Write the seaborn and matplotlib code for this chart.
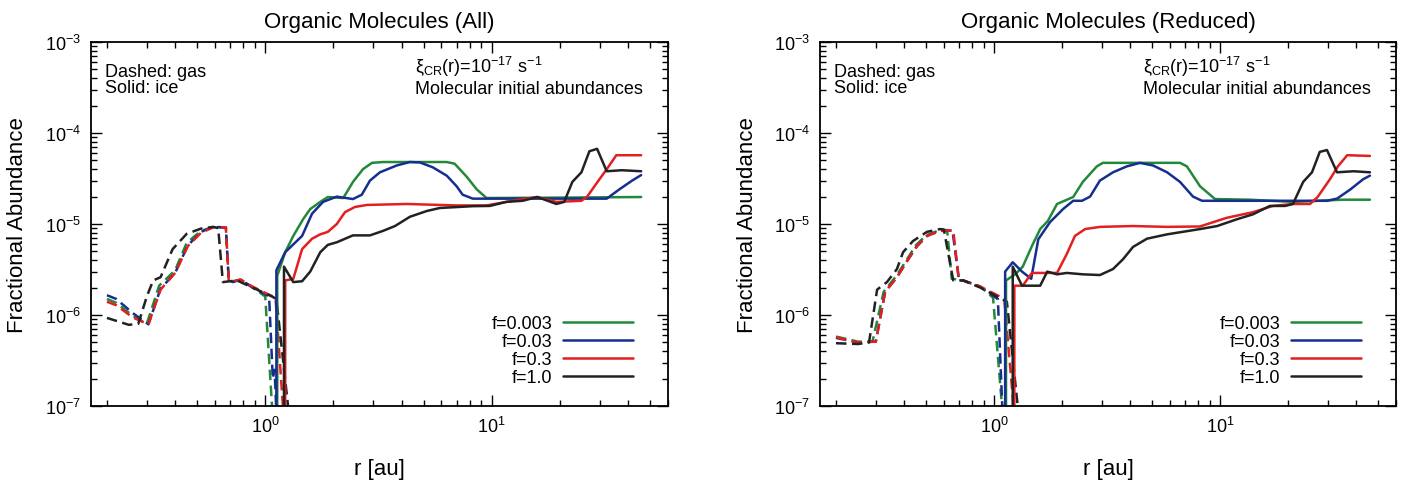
import matplotlib
matplotlib.use("Agg")
import matplotlib.pyplot as plt
import seaborn as sns
import pandas as pd
from matplotlib.ticker import LogLocator, NullFormatter

# ---- data: (r [au], fractional abundance) ----
F_LABELS = ["f=0.003", "f=0.03", "f=0.3", "f=1.0"]
COLORS = ["#23893a", "#162f8e", "#e41f1f", "#222222"]

# All organic molecules, gas phase
all_gas_f0003 = [(0.20, 1.50e-6), (0.22, 1.36e-6), (0.26, 9.8e-7), (0.30, 8.0e-7), (0.34, 2.1e-6),
                 (0.40, 3.1e-6), (0.45, 6.2e-6), (0.52, 8.4e-6), (0.59, 9.3e-6), (0.67, 9.2e-6),
                 (0.69, 2.4e-6), (0.72, 2.35e-6), (0.78, 2.45e-6), (0.88, 2.0e-6), (1.00, 1.6e-6),
                 (1.09, 5e-8)]
all_gas_f003 = [(0.20, 1.65e-6), (0.22, 1.50e-6), (0.26, 1.05e-6), (0.305, 7.9e-7), (0.345, 1.95e-6),
                (0.40, 2.9e-6), (0.455, 5.8e-6), (0.52, 8.2e-6), (0.59, 9.3e-6), (0.67, 9.1e-6),
                (0.69, 2.4e-6), (0.72, 2.3e-6), (0.78, 2.45e-6), (0.88, 2.0e-6), (1.04, 1.6e-6),
                (1.08, 2.0e-7), (1.10, 2.5e-7), (1.13, 5e-8)]
all_gas_f03 = [(0.20, 1.40e-6), (0.22, 1.28e-6), (0.26, 9.4e-7), (0.305, 7.9e-7), (0.345, 1.9e-6),
               (0.40, 2.9e-6), (0.455, 5.7e-6), (0.52, 8.0e-6), (0.59, 9.2e-6), (0.67, 9.2e-6),
               (0.69, 2.4e-6), (0.72, 2.35e-6), (0.78, 2.45e-6), (0.88, 2.05e-6), (1.00, 1.75e-6),
               (1.11, 1.55e-6), (1.22, 5e-8)]
all_gas_f1 = [(0.20, 9.3e-7), (0.25, 7.8e-7), (0.275, 8.0e-7), (0.30, 1.6e-6), (0.32, 2.4e-6),
              (0.345, 2.6e-6), (0.39, 5.3e-6), (0.45, 7.8e-6), (0.52, 8.9e-6), (0.59, 9.3e-6),
              (0.62, 9.0e-6), (0.65, 2.3e-6), (0.75, 2.4e-6), (0.88, 2.0e-6), (1.07, 1.6e-6),
              (1.12, 1.5e-6), (1.30, 5e-8)]

# All organic molecules, ice phase
all_ice_f0003 = [(1.13, 1e-9), (1.13, 2.7e-6), (1.225, 4.9e-6), (1.33, 7.4e-6), (1.47, 1.13e-5),
                 (1.58, 1.46e-5), (1.75, 1.75e-5), (1.89, 1.98e-5), (2.21, 1.93e-5), (2.44, 2.9e-5),
                 (2.70, 4.0e-5), (2.96, 4.7e-5), (3.31, 4.8e-5), (6.33, 4.8e-5), (6.86, 4.6e-5),
                 (7.76, 3.3e-5), (8.59, 2.4e-5), (9.49, 1.93e-5), (20.0, 1.95e-5), (45.7, 1.98e-5)]
all_ice_f003 = [(1.12, 1e-9), (1.12, 3.1e-6), (1.225, 4.9e-6), (1.455, 7.4e-6), (1.61, 1.3e-5),
                (1.80, 1.75e-5), (2.07, 2.0e-5), (2.44, 1.88e-5), (2.67, 2.1e-5), (2.90, 3.0e-5),
                (3.21, 3.7e-5), (3.81, 4.4e-5), (4.35, 4.8e-5), (4.82, 4.75e-5), (5.49, 4.2e-5),
                (6.33, 3.4e-5), (7.0, 2.6e-5), (7.44, 2.1e-5), (8.25, 1.9e-5), (32.2, 1.9e-5),
                (36.6, 2.4e-5), (41.7, 3.0e-5), (45.7, 3.45e-5)]
all_ice_f03 = [(1.225, 1e-9), (1.225, 2.4e-6), (1.33, 2.5e-6), (1.455, 5.3e-6), (1.61, 6.9e-6),
               (1.75, 7.7e-6), (1.89, 8.2e-6), (2.07, 1.0e-5), (2.25, 1.35e-5), (2.49, 1.54e-5),
               (2.81, 1.62e-5), (4.22, 1.66e-5), (7.0, 1.6e-5), (9.49, 1.6e-5), (11.6, 1.75e-5),
               (15.8, 1.98e-5), (19.3, 1.75e-5), (24.9, 1.8e-5), (26.4, 2.0e-5), (29.9, 3.1e-5),
               (32.2, 4.0e-5), (35.5, 5.7e-5), (45.7, 5.7e-5)]
all_ice_f1 = [(1.21, 1e-9), (1.21, 3.4e-6), (1.33, 2.3e-6), (1.455, 2.35e-6), (1.58, 3.0e-6),
              (1.75, 4.9e-6), (1.89, 5.9e-6), (2.07, 6.3e-6), (2.44, 7.5e-6), (2.90, 7.5e-6),
              (3.31, 8.4e-6), (3.74, 9.5e-6), (4.35, 1.2e-5), (5.17, 1.39e-5), (5.90, 1.5e-5),
              (8.25, 1.57e-5), (9.81, 1.58e-5), (11.6, 1.75e-5), (13.7, 1.8e-5), (15.9, 1.98e-5),
              (19.3, 1.66e-5), (20.9, 1.75e-5), (22.7, 2.9e-5), (24.9, 3.7e-5), (27.0, 6.3e-5),
              (29.2, 6.7e-5), (32.2, 3.8e-5), (37.6, 3.9e-5), (45.7, 3.8e-5)]

# Reduced organic molecules, gas phase
red_gas_f0003 = [(0.20, 5.8e-7), (0.25, 5.1e-7), (0.29, 5.1e-7), (0.325, 1.8e-6), (0.37, 2.7e-6),
                 (0.41, 4.0e-6), (0.45, 5.8e-6), (0.50, 7.5e-6), (0.57, 8.5e-6), (0.62, 8.6e-6),
                 (0.65, 2.5e-6), (0.73, 2.4e-6), (0.87, 2.05e-6), (0.99, 1.55e-6), (1.11, 5e-8)]
red_gas_f003 = [(0.20, 5.6e-7), (0.25, 5.0e-7), (0.30, 5.1e-7), (0.33, 1.8e-6), (0.372, 2.6e-6),
                (0.412, 3.9e-6), (0.456, 5.7e-6), (0.505, 7.4e-6), (0.577, 8.4e-6), (0.655, 8.5e-6),
                (0.70, 2.4e-6), (0.73, 2.4e-6), (0.87, 2.05e-6), (1.00, 1.6e-6), (1.04, 1.5e-6),
                (1.10, 5e-8)]
red_gas_f03 = [(0.20, 5.7e-7), (0.25, 5.0e-7), (0.30, 5.1e-7), (0.33, 1.8e-6), (0.372, 2.6e-6),
               (0.412, 3.9e-6), (0.456, 5.7e-6), (0.505, 7.4e-6), (0.577, 8.4e-6), (0.66, 8.5e-6),
               (0.70, 2.4e-6), (0.73, 2.4e-6), (0.87, 2.05e-6), (1.06, 1.6e-6), (1.11, 1.5e-6),
               (1.25, 5e-8)]
red_gas_f1 = [(0.20, 4.9e-7), (0.25, 4.8e-7), (0.28, 5.0e-7), (0.304, 1.9e-6), (0.336, 2.3e-6),
              (0.372, 3.2e-6), (0.396, 4.9e-6), (0.438, 6.5e-6), (0.505, 8.2e-6), (0.577, 8.8e-6),
              (0.60, 8.7e-6), (0.66, 2.4e-6), (0.73, 2.4e-6), (0.87, 2.0e-6), (1.03, 1.6e-6),
              (1.14, 1.4e-6), (1.31, 5e-8)]

# Reduced organic molecules, ice phase
red_ice_f0003 = [(1.13, 1e-9), (1.13, 2.4e-6), (1.24, 2.8e-6), (1.34, 3.4e-6), (1.47, 5.7e-6),
                 (1.60, 8.8e-6), (1.73, 1.08e-5), (1.90, 1.66e-5), (2.24, 1.98e-5), (2.47, 2.9e-5),
                 (2.85, 4.3e-5), (3.03, 4.7e-5), (6.65, 4.7e-5), (7.13, 4.3e-5), (8.15, 2.6e-5),
                 (9.5, 1.88e-5), (13.5, 1.85e-5), (21.0, 1.75e-5), (34.9, 1.85e-5), (46.0, 1.85e-5)]
red_ice_f003 = [(1.12, 1e-9), (1.12, 3.0e-6), (1.21, 3.8e-6), (1.33, 3.0e-6), (1.46, 2.5e-6),
                (1.57, 6.8e-6), (1.77, 1.05e-5), (2.02, 1.46e-5), (2.24, 1.8e-5), (2.45, 1.8e-5),
                (2.66, 2.0e-5), (2.94, 3.0e-5), (3.36, 3.7e-5), (3.87, 4.3e-5), (4.42, 4.7e-5),
                (5.05, 4.4e-5), (5.83, 3.7e-5), (6.65, 2.9e-5), (7.59, 2.0e-5), (8.32, 1.8e-5),
                (21.0, 1.8e-5), (29.7, 1.8e-5), (32.9, 1.9e-5), (37.7, 2.4e-5), (42.9, 3.1e-5),
                (46.0, 3.4e-5)]
red_ice_f03 = [(1.23, 1e-9), (1.23, 2.1e-6), (1.34, 2.1e-6), (1.47, 2.9e-6), (1.90, 2.9e-6),
               (2.10, 4.7e-6), (2.28, 7.4e-6), (2.53, 8.8e-6), (2.94, 9.3e-6), (4.12, 9.5e-6),
               (5.83, 9.3e-6), (8.15, 9.4e-6), (10.7, 1.17e-5), (14.0, 1.35e-5), (17.1, 1.58e-5),
               (21.0, 1.66e-5), (25.0, 1.66e-5), (27.0, 1.98e-5), (30.6, 3.1e-5), (33.2, 4.3e-5),
               (36.5, 5.7e-5), (46.0, 5.6e-5)]
red_ice_f1 = [(1.21, 1e-9), (1.21, 3.4e-6), (1.33, 2.1e-6), (1.60, 2.1e-6), (1.72, 3.0e-6),
              (1.90, 2.8e-6), (2.10, 2.9e-6), (2.47, 2.8e-6), (2.94, 2.75e-6), (3.36, 3.2e-6),
              (3.72, 4.1e-6), (4.12, 5.6e-6), (4.75, 6.9e-6), (5.83, 7.7e-6), (8.15, 8.8e-6),
              (9.7, 9.5e-6), (11.9, 1.13e-5), (14.0, 1.28e-5), (16.6, 1.58e-5), (19.4, 1.58e-5),
              (21.0, 1.66e-5), (23.3, 2.9e-5), (25.5, 3.7e-5), (27.6, 6.2e-5), (29.7, 6.5e-5),
              (32.9, 3.7e-5), (38.9, 3.8e-5), (46.0, 3.7e-5)]

PANELS = [
    ("Organic Molecules (All)",
     [all_gas_f0003, all_gas_f003, all_gas_f03, all_gas_f1],
     [all_ice_f0003, all_ice_f003, all_ice_f03, all_ice_f1]),
    ("Organic Molecules (Reduced)",
     [red_gas_f0003, red_gas_f003, red_gas_f03, red_gas_f1],
     [red_ice_f0003, red_ice_f003, red_ice_f03, red_ice_f1]),
]

# ---- style ----
sns.set_style("ticks")
plt.rcParams["font.family"] = ["Liberation Sans", "DejaVu Sans"]
plt.rcParams["mathtext.fontset"] = "custom"
plt.rcParams["mathtext.rm"] = "Liberation Sans"
plt.rcParams["mathtext.it"] = "Liberation Sans:italic"
plt.rcParams["mathtext.bf"] = "Liberation Sans:bold"
plt.rcParams["axes.linewidth"] = 1.3
for key in ("text.color", "axes.labelcolor", "xtick.color", "ytick.color", "axes.edgecolor"):
    plt.rcParams[key] = "black"

LW = 1.8
fig = plt.figure(figsize=(14.19, 4.81), dpi=100)
ax_boxes = [[0.0641, 0.1538, 0.4066, 0.7568], [0.5779, 0.1538, 0.4059, 0.7568]]


def to_frame(points):
    return pd.DataFrame(points, columns=["r", "abundance"])


for box, (title, gas_sets, ice_sets) in zip(ax_boxes, PANELS):
    ax = fig.add_axes(box)
    ax.set_xscale("log")
    ax.set_yscale("log")

    for pts, col in zip(gas_sets, COLORS):
        sns.lineplot(data=to_frame(pts), x="r", y="abundance", ax=ax, color=col, lw=LW,
                     sort=False, estimator=None, legend=False)
        ax.lines[-1].set_dashes((4.2, 2.2))

    handles = []
    for pts, col, lab in zip(ice_sets, COLORS, F_LABELS):
        sns.lineplot(data=to_frame(pts), x="r", y="abundance", ax=ax, color=col, lw=LW,
                     sort=False, estimator=None, legend=False)
        line = ax.lines[-1]
        line.set_label(lab)
        handles.append(line)

    ax.set_xlim(0.17, 60)
    ax.set_ylim(1e-7, 1e-3)
    ax.xaxis.set_major_locator(LogLocator(base=10, numticks=10))
    ax.xaxis.set_minor_locator(LogLocator(base=10, subs=range(2, 10), numticks=20))
    ax.xaxis.set_minor_formatter(NullFormatter())
    ax.yaxis.set_major_locator(LogLocator(base=10, numticks=10))
    ax.yaxis.set_minor_locator(LogLocator(base=10, subs=range(2, 10), numticks=20))
    ax.yaxis.set_minor_formatter(NullFormatter())
    ax.tick_params(which="both", direction="in", top=True, right=True, labelsize=13, width=1.0,
                   color="black", labelcolor="black")
    ax.tick_params(which="major", length=8, pad=7)
    ax.tick_params(which="minor", length=4.5)
    for s in ax.spines.values():
        s.set_visible(True)
        s.set_color("black")

    ax.set_title(title, fontsize=16, pad=11, color="black")
    ax.set_xlabel("r [au]", fontsize=16, labelpad=16, color="black")
    ax.set_ylabel("Fractional Abundance", fontsize=16, labelpad=12, color="black")

    ax.text(0.024, 0.907, "Dashed: gas", transform=ax.transAxes, fontsize=13, va="baseline")
    ax.text(0.024, 0.863, "Solid: ice", transform=ax.transAxes, fontsize=13, va="baseline")
    ax.text(0.5615, 0.917, "ξ$_{\\rm CR}$(r)=10$^{-17}$ s$^{-1}$", transform=ax.transAxes,
            fontsize=13, va="baseline")
    ax.text(0.5615, 0.860, "Molecular initial abundances", transform=ax.transAxes,
            fontsize=13, va="baseline")

    ax.legend(handles=handles, loc="lower right", bbox_to_anchor=(0.94, 0.055),
              frameon=False, markerfirst=False, fontsize=13, handlelength=3.9,
              handletextpad=0.6, labelspacing=0.05, borderpad=0, borderaxespad=0)

fig.savefig("out.png", dpi=100)
